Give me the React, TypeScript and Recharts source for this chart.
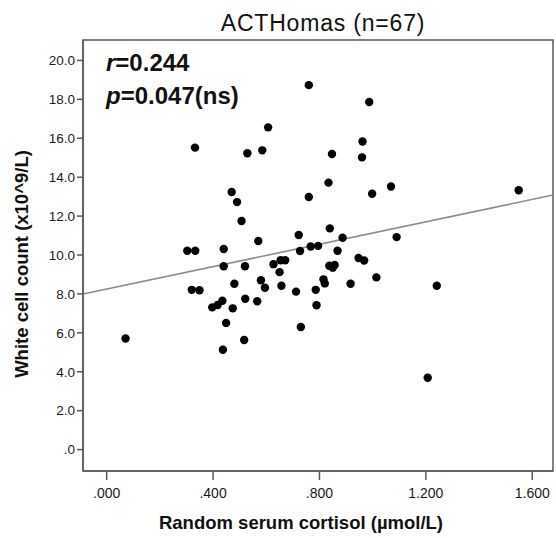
import { ScatterChart, Scatter, XAxis, YAxis, ReferenceLine, ReferenceArea, Label } from "recharts";

// Random serum cortisol (µmol/L)
const cortisol = [
  0.071, 0.303, 0.333, 0.332, 0.32, 0.349, 0.397, 0.417, 0.435, 0.44, 0.44, 0.449, 0.437, 0.474,
  0.47, 0.49, 0.507, 0.48, 0.52, 0.521, 0.517, 0.529, 0.566, 0.57, 0.58, 0.585, 0.595, 0.607,
  0.627, 0.654, 0.671, 0.65, 0.657, 0.712, 0.722, 0.727, 0.73, 0.76, 0.76, 0.767, 0.795, 0.786,
  0.789, 0.815, 0.82, 0.834, 0.837, 0.85, 0.857, 0.839, 0.847, 0.868, 0.887, 0.917, 0.947, 0.968,
  0.962, 0.96, 0.987, 0.998, 1.014, 1.069, 1.09, 1.207, 1.241, 1.549,
];

// White cell count (x10^9/L)
const whiteCells = [
  5.71, 10.22, 10.22, 15.52, 8.21, 8.19, 7.31, 7.43, 7.65, 10.31, 9.42, 6.51, 5.13, 7.26,
  13.24, 12.72, 11.75, 8.52, 9.42, 7.75, 5.63, 15.23, 7.62, 10.72, 8.7, 15.38, 8.32, 16.56,
  9.53, 9.73, 9.73, 9.12, 8.42, 8.12, 11.03, 10.21, 6.3, 18.73, 12.98, 10.44, 10.47, 8.21,
  7.42, 8.75, 8.54, 13.72, 9.45, 9.35, 9.49, 11.37, 15.19, 10.22, 10.89, 8.52, 9.85, 9.72,
  15.83, 15.02, 17.86, 13.15, 8.85, 13.52, 10.92, 3.69, 8.42, 13.33,
];

const xTicks = [0, 0.4, 0.8, 1.2, 1.6];
const yTicks = [0, 2, 4, 6, 8, 10, 12, 14, 16, 18, 20];

// linear fit line
const intercept = 8.25;
const slope = 2.88;

const xDomain = [-0.089, 1.678];
const yDomain = [-1.1, 21.05];

const points = cortisol.map((x, i) => ({ x, y: whiteCells[i] }));

const FONT = "'Liberation Sans', Arial, sans-serif";
const AXIS = "#5a5a5a";
const LABEL = { fill: "#111", fontSize: 18.5, fontWeight: "bold", fontFamily: FONT } as const;

const stripZero = (s: string) => (s.startsWith("0") ? s.slice(1) : s);

const Dot = (props: any) => <circle cx={props.cx} cy={props.cy} r={4.2} fill="#000" />;

export default function App() {
  return (
    <div style={{ position: "absolute", left: 0, top: 0, width: 556, height: 538, background: "#fff", fontFamily: FONT }}>
      <ScatterChart width={556} height={538} margin={{ top: 40, right: 3, bottom: 0, left: 0 }}>
        <XAxis
          type="number"
          dataKey="x"
          domain={xDomain}
          allowDataOverflow
          ticks={xTicks}
          tickFormatter={(v: number) => stripZero(v.toFixed(3))}
          height={67}
          tickSize={9}
          tickMargin={8}
          stroke={AXIS}
          strokeWidth={1.5}
          tick={{ fill: "#1a1a1a", fontSize: 14, fontFamily: FONT }}
        >
          <Label
            content={() => (
              <text x={301} y={522} textAnchor="middle" dominantBaseline="central" style={LABEL}>
                Random serum cortisol (µmol/L)
              </text>
            )}
          />
        </XAxis>
        <YAxis
          type="number"
          dataKey="y"
          domain={yDomain}
          allowDataOverflow
          ticks={yTicks}
          tickFormatter={(v: number) => stripZero(v.toFixed(1))}
          width={83}
          tickSize={6}
          tickMargin={2}
          stroke={AXIS}
          strokeWidth={1.5}
          tick={{ fill: "#1a1a1a", fontSize: 13.5, fontFamily: FONT }}
        >
          <Label
            content={() => (
              <text
                x={21}
                y={264}
                transform="rotate(-90 21 264)"
                textAnchor="middle"
                dominantBaseline="central"
                style={LABEL}
              >
                White cell count (x10^9/L)
              </text>
            )}
          />
        </YAxis>
        <ReferenceArea
          x1={xDomain[0]}
          x2={xDomain[1]}
          y1={yDomain[0]}
          y2={yDomain[1]}
          fill="none"
          stroke={AXIS}
          strokeWidth={1.5}
          ifOverflow="visible"
        />
        <ReferenceLine
          segment={[
            { x: xDomain[0], y: intercept + slope * xDomain[0] },
            { x: xDomain[1], y: intercept + slope * xDomain[1] },
          ]}
          stroke="#8c8c8c"
          strokeWidth={1.6}
        />
        <Scatter data={points} shape={Dot} isAnimationActive={false} />
        <text
          x={323}
          y={23}
          textAnchor="middle"
          dominantBaseline="central"
          style={{ fill: "#111", fontSize: 23, letterSpacing: 0.8, fontFamily: FONT }}
        >
          ACTHomas (n=67)
        </text>
        <text x={106} y={62} dominantBaseline="central" style={{ fill: "#111", fontSize: 24, fontWeight: "bold", fontFamily: FONT }}>
          <tspan fontStyle="italic">r</tspan>=0.244
        </text>
        <text x={106} y={95} dominantBaseline="central" style={{ fill: "#111", fontSize: 24, fontWeight: "bold", fontFamily: FONT }}>
          <tspan fontStyle="italic">p</tspan>=0.047(ns)
        </text>
      </ScatterChart>
    </div>
  );
}
